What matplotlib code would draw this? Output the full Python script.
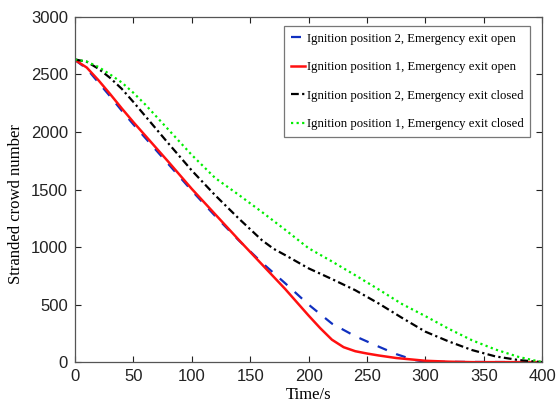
import matplotlib
matplotlib.use("Agg")
import matplotlib.pyplot as plt

t_red = [0, 10, 20, 30, 40, 50, 60, 80, 100, 120, 140, 160, 180, 200, 210, 220, 230, 240, 250, 260, 275, 300, 320, 340, 400]
red = [2625, 2560, 2450, 2330, 2205, 2085, 1970, 1740, 1505, 1285, 1065, 850, 635, 405, 295, 195, 130, 95, 75, 58, 36, 12, 4, 0, 0]

t_blue = [0, 10, 20, 30, 40, 50, 60, 80, 100, 120, 140, 160, 180, 200, 220, 240, 260, 275, 290, 300, 400]
blue = [2625, 2550, 2430, 2310, 2185, 2065, 1950, 1720, 1490, 1270, 1060, 865, 685, 500, 335, 225, 135, 70, 20, 3, 0]

t_black = [0, 10, 20, 30, 40, 50, 60, 80, 100, 120, 140, 160, 170, 180, 200, 220, 240, 260, 280, 300, 320, 340, 360, 380, 400]
black = [2630, 2610, 2550, 2470, 2375, 2260, 2140, 1900, 1665, 1450, 1250, 1060, 985, 930, 815, 722, 625, 510, 385, 265, 180, 105, 50, 18, 0]

t_green = [0, 10, 20, 30, 40, 50, 60, 80, 100, 120, 140, 160, 180, 200, 220, 240, 260, 280, 300, 320, 340, 360, 380, 400]
green = [2630, 2612, 2565, 2500, 2430, 2340, 2240, 2020, 1800, 1600, 1455, 1305, 1150, 990, 875, 755, 632, 505, 400, 290, 190, 110, 45, 0]

labels = ["Ignition position 2, Emergency exit open",
          "Ignition position 1, Emergency exit open",
          "Ignition position 2, Emergency exit closed",
          "Ignition position 1, Emergency exit closed"]

fig = plt.figure(figsize=(5.56, 4.12), dpi=100)
ax = fig.add_axes([0.135, 0.121, 0.84, 0.838])

ax.plot(t_blue, blue, color="#1030c0", ls=(0, (4.5, 4.5)), lw=1.6, label=labels[0])
ax.plot(t_red, red, color="#ff1010", ls="-", lw=1.8, label=labels[1])
ax.plot(t_black, black, color="black", ls=(0, (3.5, 1.5, 1, 1.5)), lw=1.6, label=labels[2])
ax.plot(t_green, green, color="#00ee00", ls=(0, (1, 1.5)), lw=1.6, label=labels[3])

ax.set_xlim(0, 400)
ax.set_ylim(0, 3000)
ax.set_xticks(range(0, 401, 50))
ax.set_yticks(range(0, 3001, 500))
ax.tick_params(direction="in", top=True, right=True, length=4, width=0.8,
               labelsize=12, pad=5, colors="#222222")
for lab in ax.get_xticklabels() + ax.get_yticklabels():
    lab.set_fontfamily("Liberation Sans")
for s in ax.spines.values():
    s.set_color("#555555")
    s.set_linewidth(0.9)

ax.set_xlabel("Time/s", fontfamily="Liberation Serif", fontsize=12, labelpad=2)
ax.set_ylabel("Stranded crowd number", fontfamily="Liberation Serif", fontsize=12,
              labelpad=5, y=0.458)

leg = ax.legend(loc="upper left", bbox_to_anchor=(0.448, 0.975),
                prop={"family": "Liberation Serif", "size": 9.2},
                handlelength=1.1, handletextpad=0.1, labelspacing=1.3,
                borderpad=0.55, borderaxespad=0.0, fancybox=False, framealpha=1)
leg.get_frame().set_edgecolor("#777777")
leg.get_frame().set_linewidth(0.9)

fig.savefig("out.png", dpi=100)
